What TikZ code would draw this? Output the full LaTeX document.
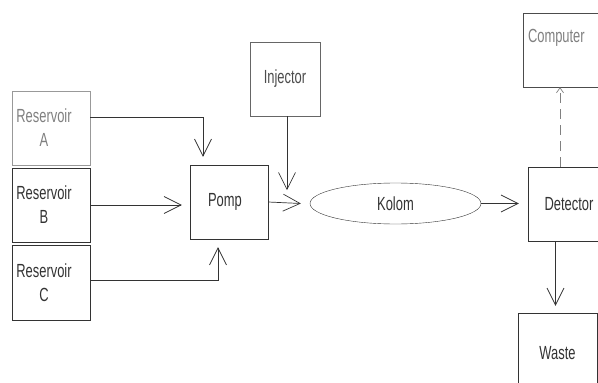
\documentclass[tikz,border=0pt]{standalone}
\usepackage{fontspec}
\setmainfont{Liberation Sans}[FakeStretch=0.68]
\usetikzlibrary{arrows.meta,shapes.geometric}

\begin{document}
\begin{tikzpicture}[x=1pt,y=-1pt,
    box/.style={draw=black!80,rectangle,minimum width=78pt,minimum height=74pt,inner sep=0pt,align=center,
        font=\fontsize{19}{24}\selectfont,text=black!80},
    txt/.style={inner sep=0pt,align=center,font=\fontsize{19}{24}\selectfont,text=black!80},
    arr/.style={->,>={Straight Barb[length=17pt,width=17pt]},draw=black!80,line width=0.7pt}]
    \useasboundingbox (0,0) rectangle (598,383);
    \node[box,draw=black!40] (resA) at (51,128) {};
    \node[box] (resB) at (51,205) {};
    \node[box,minimum height=75pt] (resC) at (51,282.5) {};
    \node[txt,text=black!50] (resAtxt) at ([xshift=-7pt]resA.center) {Reservoir\\A};
    \node[txt] (resBtxt) at ([xshift=-7pt]resB.center) {Reservoir\\B};
    \node[txt] (resCtxt) at ([xshift=-7pt]resC.center) {Reservoir\\C};
    \node[box] (pomp) at (229,202) {Pomp\hspace*{8pt}};
    \node[box,minimum width=70pt,draw=black!60,text=black!70] (inj) at (285,79) {Injector};
    \node[box,ellipse,minimum width=171pt,minimum height=41pt] (kolom) at (395.5,203.5) {Kolom};
    \node[box,minimum width=82pt] (det) at (569,204) {Detector};
    \node[box,minimum width=79pt,minimum height=80pt] (waste) at (557.5,353) {Waste};
    \node[box,minimum width=78pt,draw=black!70] (comp) at (562,50) {};
    \node[txt,text=black!50,anchor=west] (comptxt) at ([xshift=5pt,yshift=12pt]comp.west) {Computer};
    \coordinate (a1) at (203,117);
    \coordinate (c1) at (218,280);
    \draw[arr] (resA.east |- a1) -- (a1) -- ([yshift=8pt]pomp.north -| a1);
    \draw[arr] (resB.east) -- ([xshift=-8pt]pomp.west |- resB.east);
    \draw[arr] (resC.east |- c1) -- (c1) -- ([yshift=-8pt]pomp.south -| c1);
    \draw[arr] ([xshift=2pt]inj.south) -- ++(0,74);
    \draw[arr] (pomp.east) -- ([xshift=-9pt]kolom.west);
    \draw[arr] (kolom.east) -- ([xshift=-9pt]det.west |- kolom.east);
    \draw[arr] ([xshift=-2pt]waste.north |- det.south) -- ([xshift=-2pt,yshift=7pt]waste.north);
    \draw[->,>={Straight Barb[length=5pt,width=7pt]},draw=black!50,line width=0.7pt,dash pattern=on 10pt off 6pt]
        ([xshift=-2pt]comp.south |- det.north) -- ([xshift=-2pt]comp.south);
\end{tikzpicture}
\end{document}
